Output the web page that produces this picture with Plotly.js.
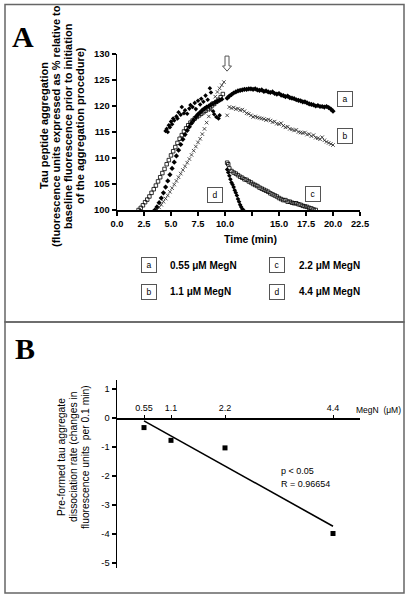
<!DOCTYPE html>
<html>
<head>
<meta charset="utf-8">
<script src="https://cdn.plot.ly/plotly-3.0.1.min.js"></script>
<style>html,body{margin:0;padding:0;background:#fff;}#chart{width:409px;height:599px;}</style>
</head>
<body>
<div id="chart"></div>
<script>
// ---------- Panel A data (time in min, fluorescence % of baseline) ----------
const timeA = [3.5,3.7,3.9,4.1,4.3,4.5,4.7,4.9,5.1,5.3,5.5,5.7,5.9,6.1,6.3,6.5,6.7,6.9,7.1,7.3,7.5,7.7,7.9,8.1,8.3,8.5,8.7,8.9,9.1,9.3,9.5,9.7,
  10.2,10.4,10.6,10.8,11.0,11.2,11.4,11.6,11.8,12.0,12.2,12.4,12.6,12.8,13.0,13.2,13.4,13.6,13.8,14.0,14.2,14.4,14.6,14.8,15.0,15.2,15.4,15.6,15.8,16.0,16.2,16.4,16.6,16.8,17.0,17.2,17.4,17.6,17.8,18.0,18.2,18.4,18.6,18.8,19.0,19.2,19.4,19.6,19.8,20.0];
const valueA = [100.0,100.6,101.4,102.3,103.3,104.4,105.6,106.8,108.0,109.2,110.4,111.5,112.6,113.6,114.5,115.3,116.0,116.7,117.3,117.9,118.4,118.8,119.2,119.5,119.8,120.0,120.3,120.5,120.7,120.9,121.1,121.3,
  121.5,121.9,122.2,122.5,122.7,122.9,123.0,123.1,123.2,123.2,123.3,123.3,123.2,123.3,123.1,123.0,123.1,122.8,122.9,122.7,122.6,122.7,122.4,122.3,122.4,122.1,122.0,121.8,121.9,121.6,121.5,121.4,121.2,121.1,121.0,120.8,120.8,120.6,120.4,120.3,120.2,120.0,120.1,119.9,119.9,119.8,119.9,119.7,119.4,119.0];

const timeB = [3.7,3.9,4.1,4.3,4.5,4.7,4.9,5.1,5.3,5.5,5.7,5.9,6.1,6.3,6.5,6.7,6.9,7.1,7.3,7.5,7.7,7.9,8.1,8.3,8.5,8.7,8.9,9.1,9.3,9.5,9.7,9.9,
  10.2,10.4,10.6,10.8,11.0,11.2,11.4,11.6,11.8,12.0,12.2,12.4,12.6,12.8,13.0,13.2,13.4,13.6,13.8,14.0,14.2,14.4,14.6,14.8,15.0,15.2,15.4,15.6,15.8,16.0,16.2,16.4,16.6,16.8,17.0,17.2,17.4,17.6,17.8,18.0,18.2,18.4,18.6,18.8,19.0,19.2,19.4,19.6,19.8,20.0];
const valueB = [100.0,100.5,101.0,101.6,102.2,102.8,103.5,104.2,104.9,105.6,106.3,107.0,107.7,108.4,109.1,109.8,110.6,111.4,112.2,113.0,113.7,114.6,115.6,116.8,118.0,119.2,120.6,121.8,122.7,123.4,124.0,124.6,
  118.2,119.8,119.6,119.7,119.4,119.5,119.2,119.3,119.0,118.6,118.5,118.2,117.9,118.0,117.8,117.7,117.6,117.5,117.3,117.4,117.2,116.9,117.0,116.6,116.5,116.7,116.2,115.9,116.0,115.6,115.5,115.3,115.4,115.0,114.9,114.8,114.9,114.5,114.6,114.2,114.4,113.9,113.8,113.6,114.0,113.4,113.1,112.9,112.7,112.5];

const timeC = [2.0,2.2,2.4,2.6,2.8,3.0,3.2,3.4,3.6,3.8,4.0,4.2,4.4,4.6,4.8,5.0,5.2,5.4,5.6,5.8,6.0,6.2,6.4,6.6,6.8,7.0,7.2,7.4,7.6,7.8,8.0,8.2,8.4,8.6,8.8,9.0,9.2,9.4,9.6,9.8,
  10.2,10.3,10.4,10.6,10.8,11.0,11.2,11.4,11.6,11.8,12.0,12.2,12.4,12.6,12.8,13.0,13.2,13.4,13.6,13.8,14.0,14.2,14.4,14.6,14.8,15.0,15.2,15.4,15.6,15.8,16.0,16.2,16.4,16.6,16.8,17.0,17.2,17.4,17.6,17.8,18.0,18.2,18.4];
const valueC = [100.0,100.4,100.9,101.5,102.0,102.6,103.3,104.0,104.7,105.5,106.3,107.1,107.9,108.8,109.6,110.5,111.3,112.1,112.9,113.7,114.4,115.1,115.7,116.3,116.8,117.2,117.6,117.9,118.2,118.5,118.8,119.1,119.4,119.8,120.1,120.4,120.8,121.2,121.7,122.3,
  109.1,108.8,108.0,107.5,107.2,107.0,106.7,106.4,106.2,105.9,105.8,105.5,105.3,105.0,104.8,104.6,104.3,104.1,103.9,103.7,103.5,103.2,103.0,102.8,102.6,102.3,102.1,101.9,101.9,101.6,101.6,101.4,101.3,101.3,101.1,101.0,100.8,100.7,100.6,100.4,100.3,100.1,100.0];

const timeD = [4.5,4.6,4.7,4.8,4.9,5.0,5.1,5.2,5.3,5.5,5.6,5.7,5.9,6.0,6.2,6.3,6.5,6.7,6.8,7.0,7.2,7.3,7.5,7.7,7.8,8.0,8.2,8.4,8.6,8.7,8.9,9.0,9.2,9.4,9.5,
  10.2,10.3,10.4,10.5,10.6,10.7,10.8,10.9,11.0,11.1,11.2,11.3,11.4,11.5,11.6,11.7];
const valueD = [115.2,115.6,115.0,116.3,115.9,117.0,116.5,117.6,117.2,118.0,117.6,118.8,118.3,119.8,118.6,119.2,118.5,119.5,120.2,119.8,120.6,119.4,121.0,120.3,121.4,120.8,122.0,121.2,123.4,122.6,119.0,118.4,117.9,117.6,118.2,
  107.8,107.2,106.6,105.9,105.3,104.9,104.4,103.8,103.3,102.8,102.1,101.6,101.0,100.6,100.2,100.0];

const timeTicks = [0,2.5,5,7.5,10,12.5,15,17.5,20,22.5];
const timeTickText = ['0.0','2.5','5.0','7.5','10.0','','15.0','17.5','20.0','22.5'];
const aggTicks = [100,105,110,115,120,125,130];

const seriesLetters = ['a','b','c','d'];
const seriesLabels = ['0.55 μM MegN','1.1 μM MegN','2.2 μM MegN','4.4 μM MegN'];

const titleALines = ['Tau peptide aggregation','(fluorescence units expressed as % relative to','baseline fluorescence prior to initiation','of the aggregation procedure)'];
const titleBLines = ['Pre-formed tau aggregate','dissociation rate (changes in','fluorescence units  per 0.1 min)'];

// ---------- Panel B data ----------
const megN = [0.55, 1.1, 2.2, 4.4];
const megNLabels = ['0.55','1.1','2.2','4.4'];
const dissocRate = [-0.33, -0.77, -1.03, -3.98];
const fitX = [0.55, 4.4];
const fitY = [-0.10, -3.73];
const rateTicks = [1,0,-1,-2,-3,-4,-5];
const rateTickText = ['1','0','-1','-2','-3','-4','-5'];

// ---------- helpers (pixel -> paper) ----------
const W = 409, H = 599;
const px = v => v / W;
const py = v => 1 - v / H;

const F = 'Liberation Sans, Arial, sans-serif';
const boldFont = (s) => ({family: F, size: s, color: '#000', weight: 'bold'});
const regFont = (s) => ({family: F, size: s, color: '#000'});

const traces = [
  {x: timeA, y: valueA, type: 'scatter', mode: 'markers', xaxis: 'x', yaxis: 'y',
   marker: {symbol: 'diamond', size: 4, color: '#000'}},
  {x: timeB, y: valueB, type: 'scatter', mode: 'markers', xaxis: 'x', yaxis: 'y',
   marker: {symbol: 'x-thin', size: 3.5, color: '#000', line: {color: '#222', width: 0.8}}},
  {x: timeC, y: valueC, type: 'scatter', mode: 'markers', xaxis: 'x', yaxis: 'y',
   marker: {symbol: 'square-open', size: 3.5, color: '#000', line: {color: '#222', width: 0.8}}},
  {x: timeD, y: valueD, type: 'scatter', mode: 'markers', xaxis: 'x', yaxis: 'y',
   marker: {symbol: 'diamond', size: 3.5, color: '#000'}},
  {x: fitX, y: fitY, type: 'scatter', mode: 'lines', xaxis: 'x2', yaxis: 'y2',
   line: {color: '#000', width: 1.6}},
  {x: megN, y: dissocRate, type: 'scatter', mode: 'markers', xaxis: 'x2', yaxis: 'y2',
   marker: {symbol: 'square', size: 5, color: '#000'}}
];

const ann = (text, x, y, font, extra) => Object.assign({text: text, x: px(x), y: py(y), xref: 'paper', yref: 'paper',
  showarrow: false, xanchor: 'center', yanchor: 'middle', font: font}, extra || {});

const annotations = [];
const serif = {family: 'Liberation Serif, Times New Roman, serif', size: 30, color: '#000', weight: 'bold'};
annotations.push(ann('A', 23, 37, serif));
annotations.push(ann('B', 25, 348, serif));
const titleAX = [44, 56, 68, 80];
titleALines.forEach((t, i) => annotations.push(ann(t, titleAX[i], 126, boldFont(11), {textangle: -90})));
annotations.push(ann('Time (min)', 250, 239, boldFont(10.5)));
const titleBX = [62, 74, 86];
titleBLines.forEach((t, i) => annotations.push(ann(t, titleBX[i], 457, regFont(10.3), {textangle: -90})));
annotations.push(ann('MegN  (μM)', 354, 410, regFont(8.5), {xanchor: 'left'}));
annotations.push(ann('p < 0.05', 279, 471, regFont(9), {xanchor: 'left'}));
annotations.push(ann('R = 0.96654', 279, 484, regFont(9), {xanchor: 'left'}));

const boxStyle = {width: 14, height: 14, bordercolor: '#555', borderwidth: 1, borderpad: 0, bgcolor: '#fff'};
const boxPos = {a: [345, 99], b: [345, 136], c: [313, 193.5], d: [215, 195]};
seriesLetters.forEach(l => {
  annotations.push(ann(l, boxPos[l][0], boxPos[l][1], regFont(8.5), boxStyle));
});
const legPos = {a: [148.5, 265], b: [148.5, 291.5], c: [277, 265], d: [277, 291.5]};
seriesLetters.forEach((l, i) => {
  annotations.push(ann(l, legPos[l][0], legPos[l][1], regFont(8.5), boxStyle));
  annotations.push(ann(seriesLabels[i], legPos[l][0] + 19.5, legPos[l][1], boldFont(10), {xanchor: 'left'}));
});

const shapes = [
  {type: 'rect', xref: 'paper', yref: 'paper', x0: px(5), x1: px(404), y0: py(322), y1: py(4.5), line: {color: '#666', width: 1.5}},
  {type: 'rect', xref: 'paper', yref: 'paper', x0: px(5), x1: px(404), y0: py(593), y1: py(322), line: {color: '#666', width: 1.5}},
  {type: 'path', xref: 'x', yref: 'y', path: 'M 10.0 129.6 L 10.37 129.6 L 10.37 127.7 L 10.6 127.7 L 10.19 126.7 L 9.77 127.7 L 10.0 127.7 Z',
   fillcolor: '#fff', line: {color: '#555', width: 1}}
];

const axisStyle = {showline: true, linecolor: '#000', linewidth: 1.5, ticks: 'outside', ticklen: 4, tickwidth: 1.2, tickcolor: '#000',
  showgrid: false, zeroline: false};

const layout = {
  width: W, height: H,
  margin: {l: 0, r: 0, t: 0, b: 0},
  paper_bgcolor: '#fff', plot_bgcolor: 'rgba(0,0,0,0)',
  showlegend: false,
  xaxis: Object.assign({domain: [px(117), px(360)], anchor: 'y', range: [0, 22.5], tickvals: timeTicks, ticktext: timeTickText,
    tickfont: boldFont(9.3)}, axisStyle),
  yaxis: Object.assign({domain: [py(210), py(54)], anchor: 'x', range: [100, 130], tickvals: aggTicks,
    tickfont: boldFont(9.3)}, axisStyle),
  xaxis2: Object.assign({}, axisStyle, {domain: [px(117), px(360)], anchor: 'free', position: py(418), side: 'top', range: [0, 4.95],
    tickvals: megN, ticktext: megNLabels, ticklen: 3, tickwidth: 1, tickfont: regFont(9)}),
  yaxis2: Object.assign({domain: [py(568), py(380)], anchor: 'x2', range: [-5.17, 1.31], tickvals: rateTicks, ticktext: rateTickText,
    tickfont: regFont(9.3)}, axisStyle),
  annotations: annotations,
  shapes: shapes
};

Plotly.newPlot('chart', traces, layout, {displayModeBar: false, staticPlot: true});
</script>
</body>
</html>
